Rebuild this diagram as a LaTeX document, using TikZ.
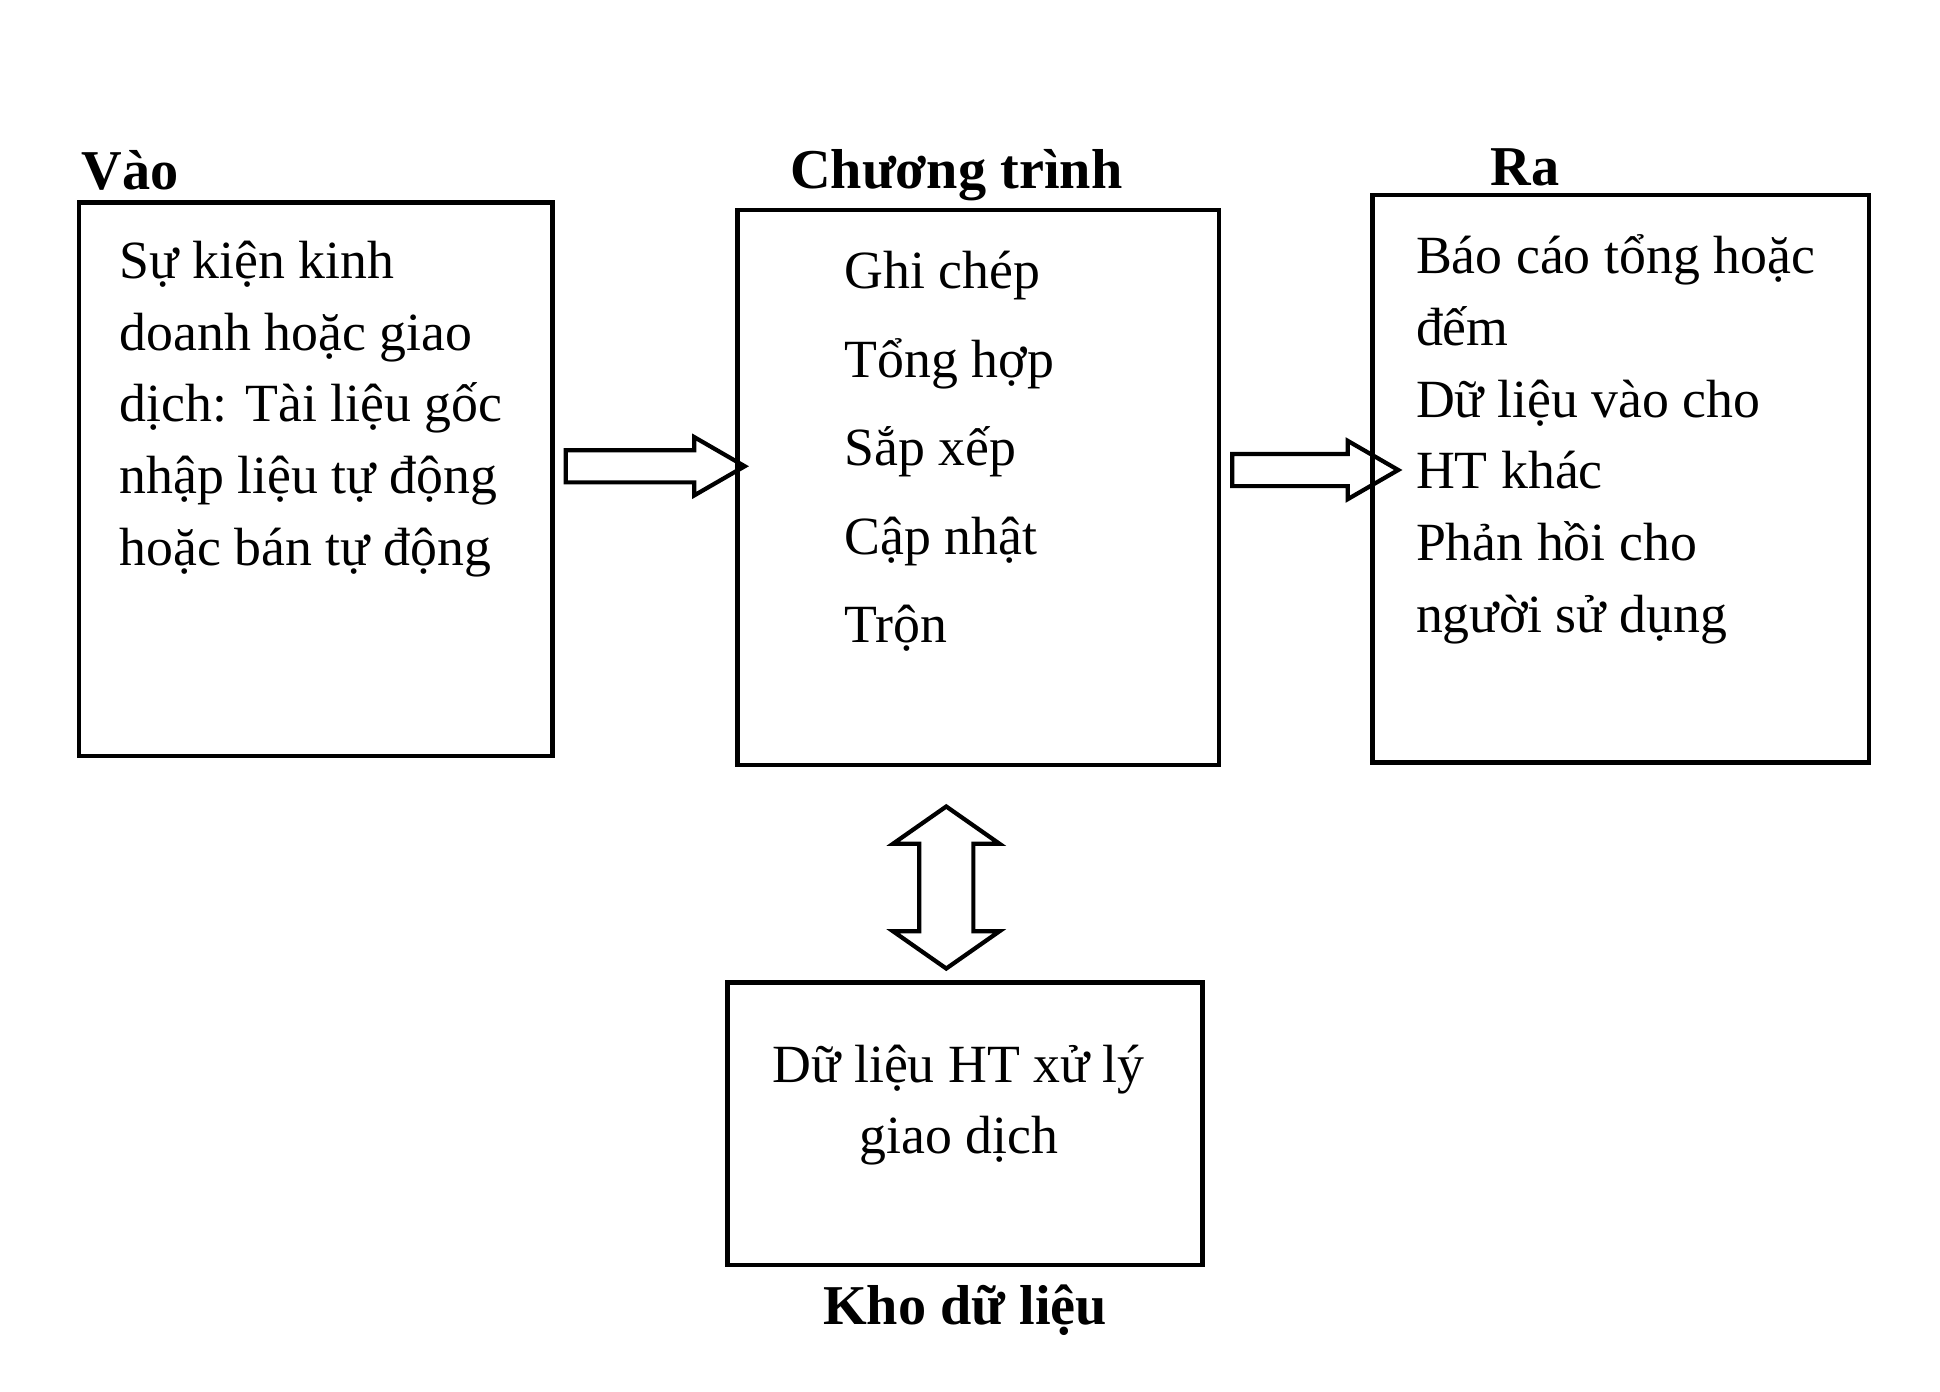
\documentclass[tikz,border=0pt]{standalone}
\usepackage{fontspec}
\setmainfont{Liberation Serif}
\usetikzlibrary{shapes.arrows}
\begin{document}
\begin{tikzpicture}[x=0.0125cm, y=-0.0125cm, semithick,
    box/.style={draw, line width=1.2pt},
    body/.style={anchor=north west, align=left, inner sep=0pt, font=\fontsize{15.3}{20.4}\selectfont},
    head/.style={font=\bfseries\fontsize{16}{18}\selectfont},
    fatarrow/.style={draw, line width=1.2pt, single arrow, single arrow head extend=0.13cm,
        single arrow tip angle=60, inner xsep=0pt, inner ysep=0.14cm},
    twoarrow/.style={draw, line width=1.2pt, double arrow, double arrow head extend=0.26cm,
        double arrow tip angle=110, inner xsep=0pt, inner ysep=0.25cm, rotate=90}]
    \useasboundingbox (0,0) rectangle (1552,1113);
    % boxes
    \draw[box] (63,162) rectangle (442,605);
    \draw[box] (590,168) rectangle (975,612);
    \draw[box] (1098,156) rectangle (1495,610);
    \draw[box] (582,786) rectangle (962,1012);
    % titles
    \node[head] (vao) at (104,136) {Vào};
    \node[head] (ct) at (765,140) {Chương trình};
    \node[head] (ra) at (1220,134) {Ra};
    \node[head] (kho) at (772,1048) {Kho dữ liệu};
    % texts
    \node[body] (txtvao) at (95,192) {Sự kiện kinh\\doanh hoặc giao\\dịch: Tài liệu gốc\\nhập liệu tự động\\hoặc bán tự động};
    \node[body, font=\fontsize{15.3}{25.2}\selectfont] (txtct) at (675,200) {Ghi chép\\Tổng hợp\\Sắp xếp\\Cập nhật\\Trộn};
    \node[body] (txtra) at (1132,187) {Báo cáo tổng hoặc\\đếm\\Dữ liệu vào cho\\HT khác\\Phản hồi cho\\người sử dụng};
    \node[align=center, font=\fontsize{15.3}{20.4}\selectfont] (txtkho) at (767,884) {Dữ liệu HT xử lý\\giao dịch};
    % arrows
    \node[fatarrow, minimum height=1.79cm] (a1) at (513,373) {};
    \node[fatarrow, minimum height=1.66cm] (a2) at (1041,376) {};
    \node[twoarrow, minimum height=1.62cm] (a3) at (757,710) {};
\end{tikzpicture}
\end{document}
